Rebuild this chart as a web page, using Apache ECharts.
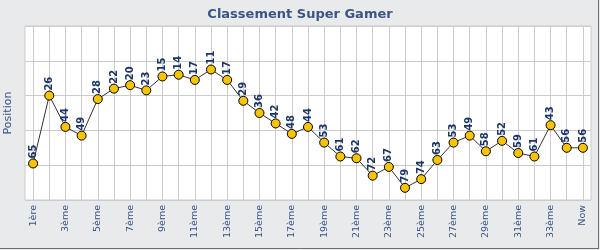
<!DOCTYPE html>
<html>
<head>
<meta charset="utf-8">
<script src="https://cdn.jsdelivr.net/npm/echarts@6/dist/echarts.min.js"></script>
<style>
  html, body { margin: 0; padding: 0; background: #e9eaec; }
  #chart { width: 600px; height: 250px; }
</style>
</head>
<body>
<div id="chart"></div>
<script>
const titleText = 'Classement Super Gamer';
const yAxisName = 'Position';
const categories = ['1ère','2ème','3ème','4ème','5ème','6ème','7ème','8ème','9ème','10ème',
  '11ème','12ème','13ème','14ème','15ème','16ème','17ème','18ème','19ème','20ème',
  '21ème','22ème','23ème','24ème','25ème','26ème','27ème','28ème','29ème','30ème',
  '31ème','32ème','33ème','34ème','Now'];
const positions = [65,26,44,49,28,22,20,23,15,14,
  17,11,17,29,36,42,48,44,53,61,
  62,72,67,79,74,63,53,49,58,52,
  59,61,43,56,56];
// hidden y scale (ranks, inverted)
const Y_MIN = -14, Y_MAX = 86, Y_STEP = 20;

const FONT = 'DejaVu Sans';
const LABEL_COLOR = '#3a5584';
const chart = echarts.init(document.getElementById('chart'), null, { renderer: 'canvas' });
chart.setOption({
  animation: false,
  backgroundColor: '#e9eaec',
  title: {
    text: titleText,
    left: 'center',
    top: 3,
    textStyle: { fontFamily: FONT, fontSize: 13, fontWeight: 'bold', color: '#3a5584' }
  },
  graphic: [
    { type: 'line', shape: { x1: 598.5, y1: 0, x2: 598.5, y2: 249 }, style: { stroke: '#6e6e6e', lineWidth: 1 } },
    { type: 'line', shape: { x1: 0, y1: 248.5, x2: 599, y2: 248.5 }, style: { stroke: '#6e6e6e', lineWidth: 1 } }
  ],
  grid: {
    left: 25, top: 26, right: 9, bottom: 50,
    containLabel: false,
    outerBoundsMode: 'none',
    show: true, backgroundColor: '#ffffff', borderColor: '#cccccc', borderWidth: 1
  },
  xAxis: [
    {
      type: 'category',
      data: categories,
      boundaryGap: true,
      axisLine: { show: false },
      axisTick: { show: true, inside: true, length: 5, alignWithLabel: true, interval: 0,
        lineStyle: { color: '#1f3a6b', width: 1 } },
      axisLabel: { show: true, interval: 1, rotate: 90, margin: 5,
        fontFamily: FONT, fontSize: 9.5, color: LABEL_COLOR },
      splitLine: { show: false }
    },
    {
      type: 'category',
      data: categories,
      boundaryGap: true,
      position: 'bottom',
      axisLine: { show: false },
      axisTick: { show: true, inside: true, length: 174, alignWithLabel: true, interval: 0,
        lineStyle: { color: '#cccccc', width: 1 } },
      axisLabel: { show: false },
      splitLine: { show: false }
    }
  ],
  yAxis: {
    type: 'value',
    inverse: true,
    min: Y_MIN, max: Y_MAX, interval: Y_STEP,
    name: yAxisName,
    nameLocation: 'middle',
    nameGap: 11,
    nameTextStyle: { fontFamily: FONT, fontSize: 11, color: LABEL_COLOR },
    axisLine: { show: false },
    axisTick: { show: false },
    axisLabel: { show: false },
    splitLine: { show: true, lineStyle: { color: '#cccccc', width: 1 } }
  },
  series: [
    {
      type: 'line',
      data: positions,
      xAxisIndex: 0,
      symbol: 'circle',
      symbolSize: 9,
      lineStyle: { color: '#333333', width: 1 },
      itemStyle: { color: '#f7c500', borderColor: '#000000', borderWidth: 1 },
      label: {
        show: true, position: 'top', rotate: 90, align: 'left', verticalAlign: 'middle',
        distance: 0, fontFamily: FONT, fontSize: 10, fontWeight: 'bold', color: '#1b3566'
      },
      z: 3
    }
  ]
});
</script>
</body>
</html>
